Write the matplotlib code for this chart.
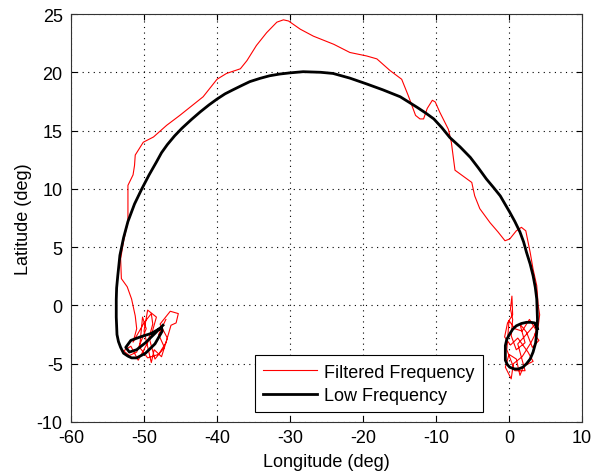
import matplotlib
matplotlib.use("Agg")
import matplotlib.pyplot as plt

plt.rcParams['font.family'] = ['Liberation Sans', 'DejaVu Sans']
plt.rcParams['axes.unicode_minus'] = False

# Low Frequency trajectory (longitude, latitude)
low_lon = [-47.4, -48.5, -49.8, -51.0, -52.0, -52.5, -51.8, -50.5, -49.0, -47.6,
           -47.5, -48.5, -49.8, -51.0, -51.7, -52.2, -52.8, -53.2, -53.5, -53.7,
           -53.8, -53.8, -53.75, -53.6, -53.45, -53.3, -52.8, -52.2, -51.3, -50.3,
           -49.3, -48.3, -47.6, -46.8, -45.8, -44.8, -43.5, -42.3, -41.1, -40.0,
           -38.9, -37.8, -36.6, -35.5, -34.1, -32.8, -31.4, -30.0, -28.2, -25.8,
           -24.1, -21.8, -19.5, -17.3, -14.9, -12.6, -11.4, -10.3, -9.2, -8.1,
           -6.7, -5.3, -4.2, -3.1, -2.1, -1.2, -0.55, 0.1, 0.8, 1.5,
           2.0, 2.4, 2.9, 3.3, 3.6, 3.8, 3.9, 3.8, 3.65, 3.3,
           2.9, 2.4, 1.9, 1.3, 0.7, 0.1, -0.25, -0.5, -0.5, -0.3,
           0.1, 0.5, 1.0, 1.7, 2.4, 3.0, 3.5, 3.9]
low_lat = [-1.7, -2.4, -3.2, -3.8, -4.0, -3.6, -3.0, -2.7, -2.4, -1.9,
           -2.2, -3.3, -4.1, -4.5, -4.5, -4.35, -4.1, -3.6, -3.1, -2.5,
           -1.0, 0.5, 1.5, 2.5, 3.4, 4.3, 5.8, 7.2, 8.7, 10.0,
           11.2, 12.3, 13.1, 13.8, 14.55, 15.2, 15.95, 16.6, 17.2, 17.7,
           18.15, 18.5, 18.87, 19.2, 19.48, 19.7, 19.85, 19.95, 20.05, 20.0,
           19.9, 19.5, 19.0, 18.5, 17.9, 17.0, 16.5, 16.0, 15.25, 14.4,
           13.6, 12.7, 11.8, 10.85, 10.1, 9.4, 8.7, 8.0, 7.2, 6.3,
           5.45, 4.55, 3.55, 2.55, 1.55, 0.55, -1.2, -2.3, -3.2, -4.0,
           -4.6, -5.0, -5.3, -5.45, -5.45, -5.3, -5.05, -4.7, -3.45, -2.9,
           -2.45, -2.05, -1.75, -1.55, -1.45, -1.45, -1.5, -2.0]

# Filtered Frequency trajectory (longitude, latitude)
filt_lon = [-47.0, -48.0, -47.2, -48.5, -49.2, -48.3, -49.5, -50.0, -49.0, -48.6,
            -47.6, -46.8, -47.8, -46.4, -45.3, -45.6, -46.3, -47.0, -48.0, -49.5,
            -50.6, -50.2, -49.7, -51.0, -52.0, -52.8, -51.8, -50.8, -49.5, -48.8,
            -49.0, -50.0, -51.5, -51.0, -51.2, -51.7,
            -52.3, -53.1, -53.2, -52.8, -52.2, -52.2, -52.2, -51.5, -51.3, -51.2,
            -50.1, -48.7, -46.9, -45.1, -43.9, -41.9, -40.0, -38.7, -36.8, -35.9,
            -34.6, -33.2, -31.8, -30.9, -30.2, -28.6, -26.8, -24.0, -21.8, -19.5,
            -18.1, -16.3, -14.7, -13.8, -12.8, -12.2, -11.7, -11.2, -10.5, -10.1,
            -9.5, -8.3, -7.9, -7.4, -6.3, -5.1, -4.7, -4.0, -2.6, -1.5,
            -0.55, 0.1, 1.0, 1.7, 2.3, 2.9, 3.3, 3.8, 4.0,
            4.2, 4.0, 3.5, 4.1, 3.2, 2.4, 1.5, 2.2, 1.0, 0.3,
            0.5, 0.2, 0.4, 0.5, -0.2, -0.6, 0.2, 1.2, 2.6, 3.3,
            2.0, 1.5, 1.0, 0.0, -0.5, 0.3, 0.6, 1.8, 3.0, 3.8,
            2.8, 1.8, 0.8, 0.0, -0.3, 0.8, 2.2, 1.2, 2.5, 3.6]
filt_lat = [-1.2, -2.5, -3.6, -4.6, -3.0, -1.0, -0.4, -2.2, -4.9, -3.8,
            -4.4, -2.8, -1.6, -0.5, -0.7, -1.5, -1.7, -3.2, -4.2, -4.5,
            -3.6, -1.0, -2.0, -4.0, -4.3, -3.9, -3.5, -4.7, -3.2, -1.6,
            -0.7, -1.5, -3.15, -2.0, -0.9, 0.55,
            1.6, 2.3, 4.0, 5.5, 7.2, 8.8, 10.3, 11.2, 12.0, 12.9,
            14.0, 14.45, 15.45, 16.3, 16.9, 17.9, 19.4, 19.9, 20.3, 21.0,
            22.3, 23.4, 24.3, 24.5, 24.4, 23.7, 23.1, 22.4, 21.7, 21.4,
            21.15, 20.15, 19.4, 18.0, 16.3, 16.0, 16.0, 16.9, 17.6, 17.45,
            16.6, 15.1, 14.0, 11.6, 11.1, 10.55, 9.4, 8.3, 7.1, 6.3,
            5.55, 5.7, 6.4, 6.7, 6.4, 4.55, 3.1, 1.7, 0.0,
            -0.8, -1.8, -2.5, -3.0, -3.6, -2.3, -1.6, -3.2, -3.8, -2.6,
            -1.2, -0.3, 0.8, -0.8, -1.5, -2.7, -3.4, -2.8, -4.0, -4.8,
            -5.2, -6.0, -4.6, -4.2, -5.3, -6.3, -5.0, -4.4, -3.2, -2.2,
            -1.2, -2.2, -2.0, -1.3, -3.8, -5.6, -5.6, -3.3, -2.4, -1.6]

x_ticks = [-60, -50, -40, -30, -20, -10, 0, 10]
y_ticks = [-10, -5, 0, 5, 10, 15, 20, 25]

fig = plt.figure(figsize=(5.94, 4.77), dpi=100)
ax = fig.add_axes([71/594, 54/477, 511/594, 408/477])

ax.plot(filt_lon, filt_lat, color='#ff0000', lw=0.8, label='Filtered Frequency', zorder=3)
ax.plot(low_lon, low_lat, color='black', lw=2.0, label='Low Frequency', zorder=4,
        solid_joinstyle='round')

ax.set_xlim(-60, 10)
ax.set_ylim(-10, 25)
ax.set_xticks(x_ticks)
ax.set_yticks(y_ticks)
ax.tick_params(direction='in', top=True, right=True, length=4, width=0.8,
               labelsize=13)
ax.tick_params(axis='x', pad=5)
ax.tick_params(axis='y', pad=6)
ax.grid(True, color='black', linestyle=(0, (1, 4)), linewidth=0.8)
for s in ax.spines.values():
    s.set_linewidth(0.8)
    s.set_color('#333333')

ax.set_xlabel('Longitude (deg)', fontsize=13, labelpad=5)
ax.set_ylabel('Latitude (deg)', fontsize=13, labelpad=3)

leg = ax.legend(loc='lower left', bbox_to_anchor=(0.36, 0.0245), borderaxespad=0,
                fontsize=13, fancybox=False, framealpha=1, edgecolor='black',
                handlelength=3.0, handletextpad=0.4, borderpad=0.45, labelspacing=0.35)
leg.get_frame().set_linewidth(0.8)

fig.savefig('out.png', dpi=100)
